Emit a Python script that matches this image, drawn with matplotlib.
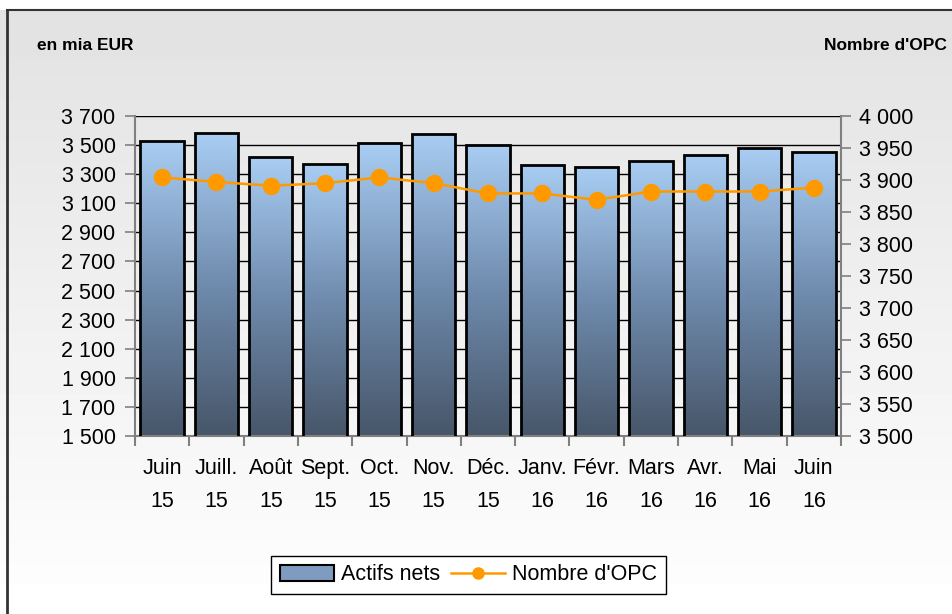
import matplotlib.pyplot as plt
import numpy as np
from matplotlib.colors import LinearSegmentedColormap
from matplotlib.lines import Line2D
from matplotlib.patches import Rectangle

plt.rcParams['font.family'] = ['Liberation Sans', 'DejaVu Sans']

months = ["Juin\n15", "Juill.\n15", "Août\n15", "Sept.\n15", "Oct.\n15", "Nov.\n15",
          "Déc.\n15", "Janv.\n16", "Févr.\n16", "Mars\n16", "Avr.\n16", "Mai\n16", "Juin\n16"]
actifs_nets = [3525, 3580, 3415, 3367, 3511, 3578, 3502, 3365, 3349, 3391, 3431, 3482, 3455]
nombre_opc = [3904, 3897, 3891, 3895, 3904, 3895, 3879, 3879, 3869, 3882, 3882, 3882, 3888]

left_ticks = np.arange(1500, 3701, 200)
right_ticks = np.arange(3500, 4001, 50)

def fmt(v):
    return f"{v:,}".replace(",", " ")

W, H = 952, 614
FS = 15.5
fig = plt.figure(figsize=(W / 100, H / 100), dpi=100)

# chart area background: vertical grey gradient with a black frame (left/top)
bg = fig.add_axes([0, 0, 1, 1], zorder=-10)
bg.set_axis_off()
grad = np.ones((H, 1))
top_px, bot_px = 10, 583
for r in range(H):
    if r < top_px or r > bot_px:
        grad[r] = 1.0
    else:
        t = (r - top_px) / (bot_px - top_px)
        grad[r] = 0.886 + (0.992 - 0.886) * t
bg.imshow(grad, cmap='gray', vmin=0, vmax=1, aspect='auto', extent=(0, 1, 0, 1))
bg.set_xlim(0, 1)
bg.set_ylim(0, 1)
fig.add_artist(Line2D([6.5 / W, 6.5 / W], [0, 1 - 10 / H], color='#333333', lw=2, transform=fig.transFigure))
fig.add_artist(Line2D([6.5 / W, 1], [1 - 10 / H, 1 - 10 / H], color='#333333', lw=1.5, transform=fig.transFigure))

ax = fig.add_axes([135 / W, 1 - 436 / H, 706 / W, 320 / H])
ax.patch.set_visible(False)
x = np.arange(len(months))

bar_cmap = LinearSegmentedColormap.from_list('bar', ['#475669', '#6f8bad', '#a9cdf3'])
bars = ax.bar(x, actifs_nets, width=0.8, bottom=0, facecolor='none', edgecolor='black', lw=2, zorder=3)
gimg = np.linspace(0, 1, 256).reshape(-1, 1)
for b in bars:
    x0, w, h = b.get_x(), b.get_width(), b.get_height()
    im = ax.imshow(gimg, cmap=bar_cmap, origin='lower', aspect='auto',
                   extent=(x0, x0 + w, 1500, h), zorder=2)
    im.set_clip_path(b)
ax.set_xlim(-0.5, len(months) - 0.5)
ax.set_ylim(1500, 3700)

ax.set_yticks(left_ticks)
ax.set_yticklabels([fmt(v) for v in left_ticks])
ax.yaxis.grid(True, color='black', lw=1)
ax.set_axisbelow(True)
ax.set_xticks(x)
ax.set_xticklabels(months, linespacing=1.75)
ax.set_xticks(np.arange(-0.5, len(months), 1), minor=True)
ax.tick_params(axis='x', which='major', length=0, pad=16, labelsize=FS)
ax.tick_params(axis='x', which='minor', length=7, color='#808080', width=1.5, direction='out')
ax.tick_params(axis='y', length=7, color='#808080', width=1.2, pad=7, labelsize=FS)
for s in ['top', 'right']:
    ax.spines[s].set_visible(False)
for s in ['left', 'bottom']:
    ax.spines[s].set_color('#808080')
    ax.spines[s].set_linewidth(1.5)

ax2 = ax.twinx()
ax2.set_ylim(3500, 4000)
ax2.set_yticks(right_ticks)
ax2.set_yticklabels([fmt(v) for v in right_ticks])
ax2.tick_params(axis='y', length=7, color='#808080', width=1.2, pad=6, labelsize=FS)
for s in ['top', 'left', 'bottom']:
    ax2.spines[s].set_visible(False)
ax2.spines['right'].set_color('#808080')
ax2.spines['right'].set_linewidth(1.5)
line, = ax2.plot(x, nombre_opc, color='#ff9900', lw=1.8, marker='o', markersize=11.5, zorder=5)

fig.text(37 / W, 1 - 45 / H, "en mia EUR", fontsize=12.5, fontweight='bold', ha='left', va='center')
fig.text(947 / W, 1 - 45 / H, "Nombre d'OPC", fontsize=12.5, fontweight='bold', ha='right', va='center')

bar_handle = Rectangle((0, 0), 1, 1, facecolor='#7f9cc0', edgecolor='black', lw=1.5)
line_handle = Line2D([], [], color='#ff9900', lw=1.8, marker='o', markersize=8)
leg = fig.legend([bar_handle, line_handle], ["Actifs nets", "Nombre d'OPC"], loc='center',
                 bbox_to_anchor=(468.5 / W, 1 - 575 / H), ncol=2, fontsize=FS, frameon=True,
                 fancybox=False, edgecolor='black', facecolor='white', framealpha=1,
                 handlelength=2.5, handletextpad=0.35, columnspacing=0.5, borderpad=0.4)
leg.get_frame().set_linewidth(1)

fig.savefig("out.png", dpi=100)
